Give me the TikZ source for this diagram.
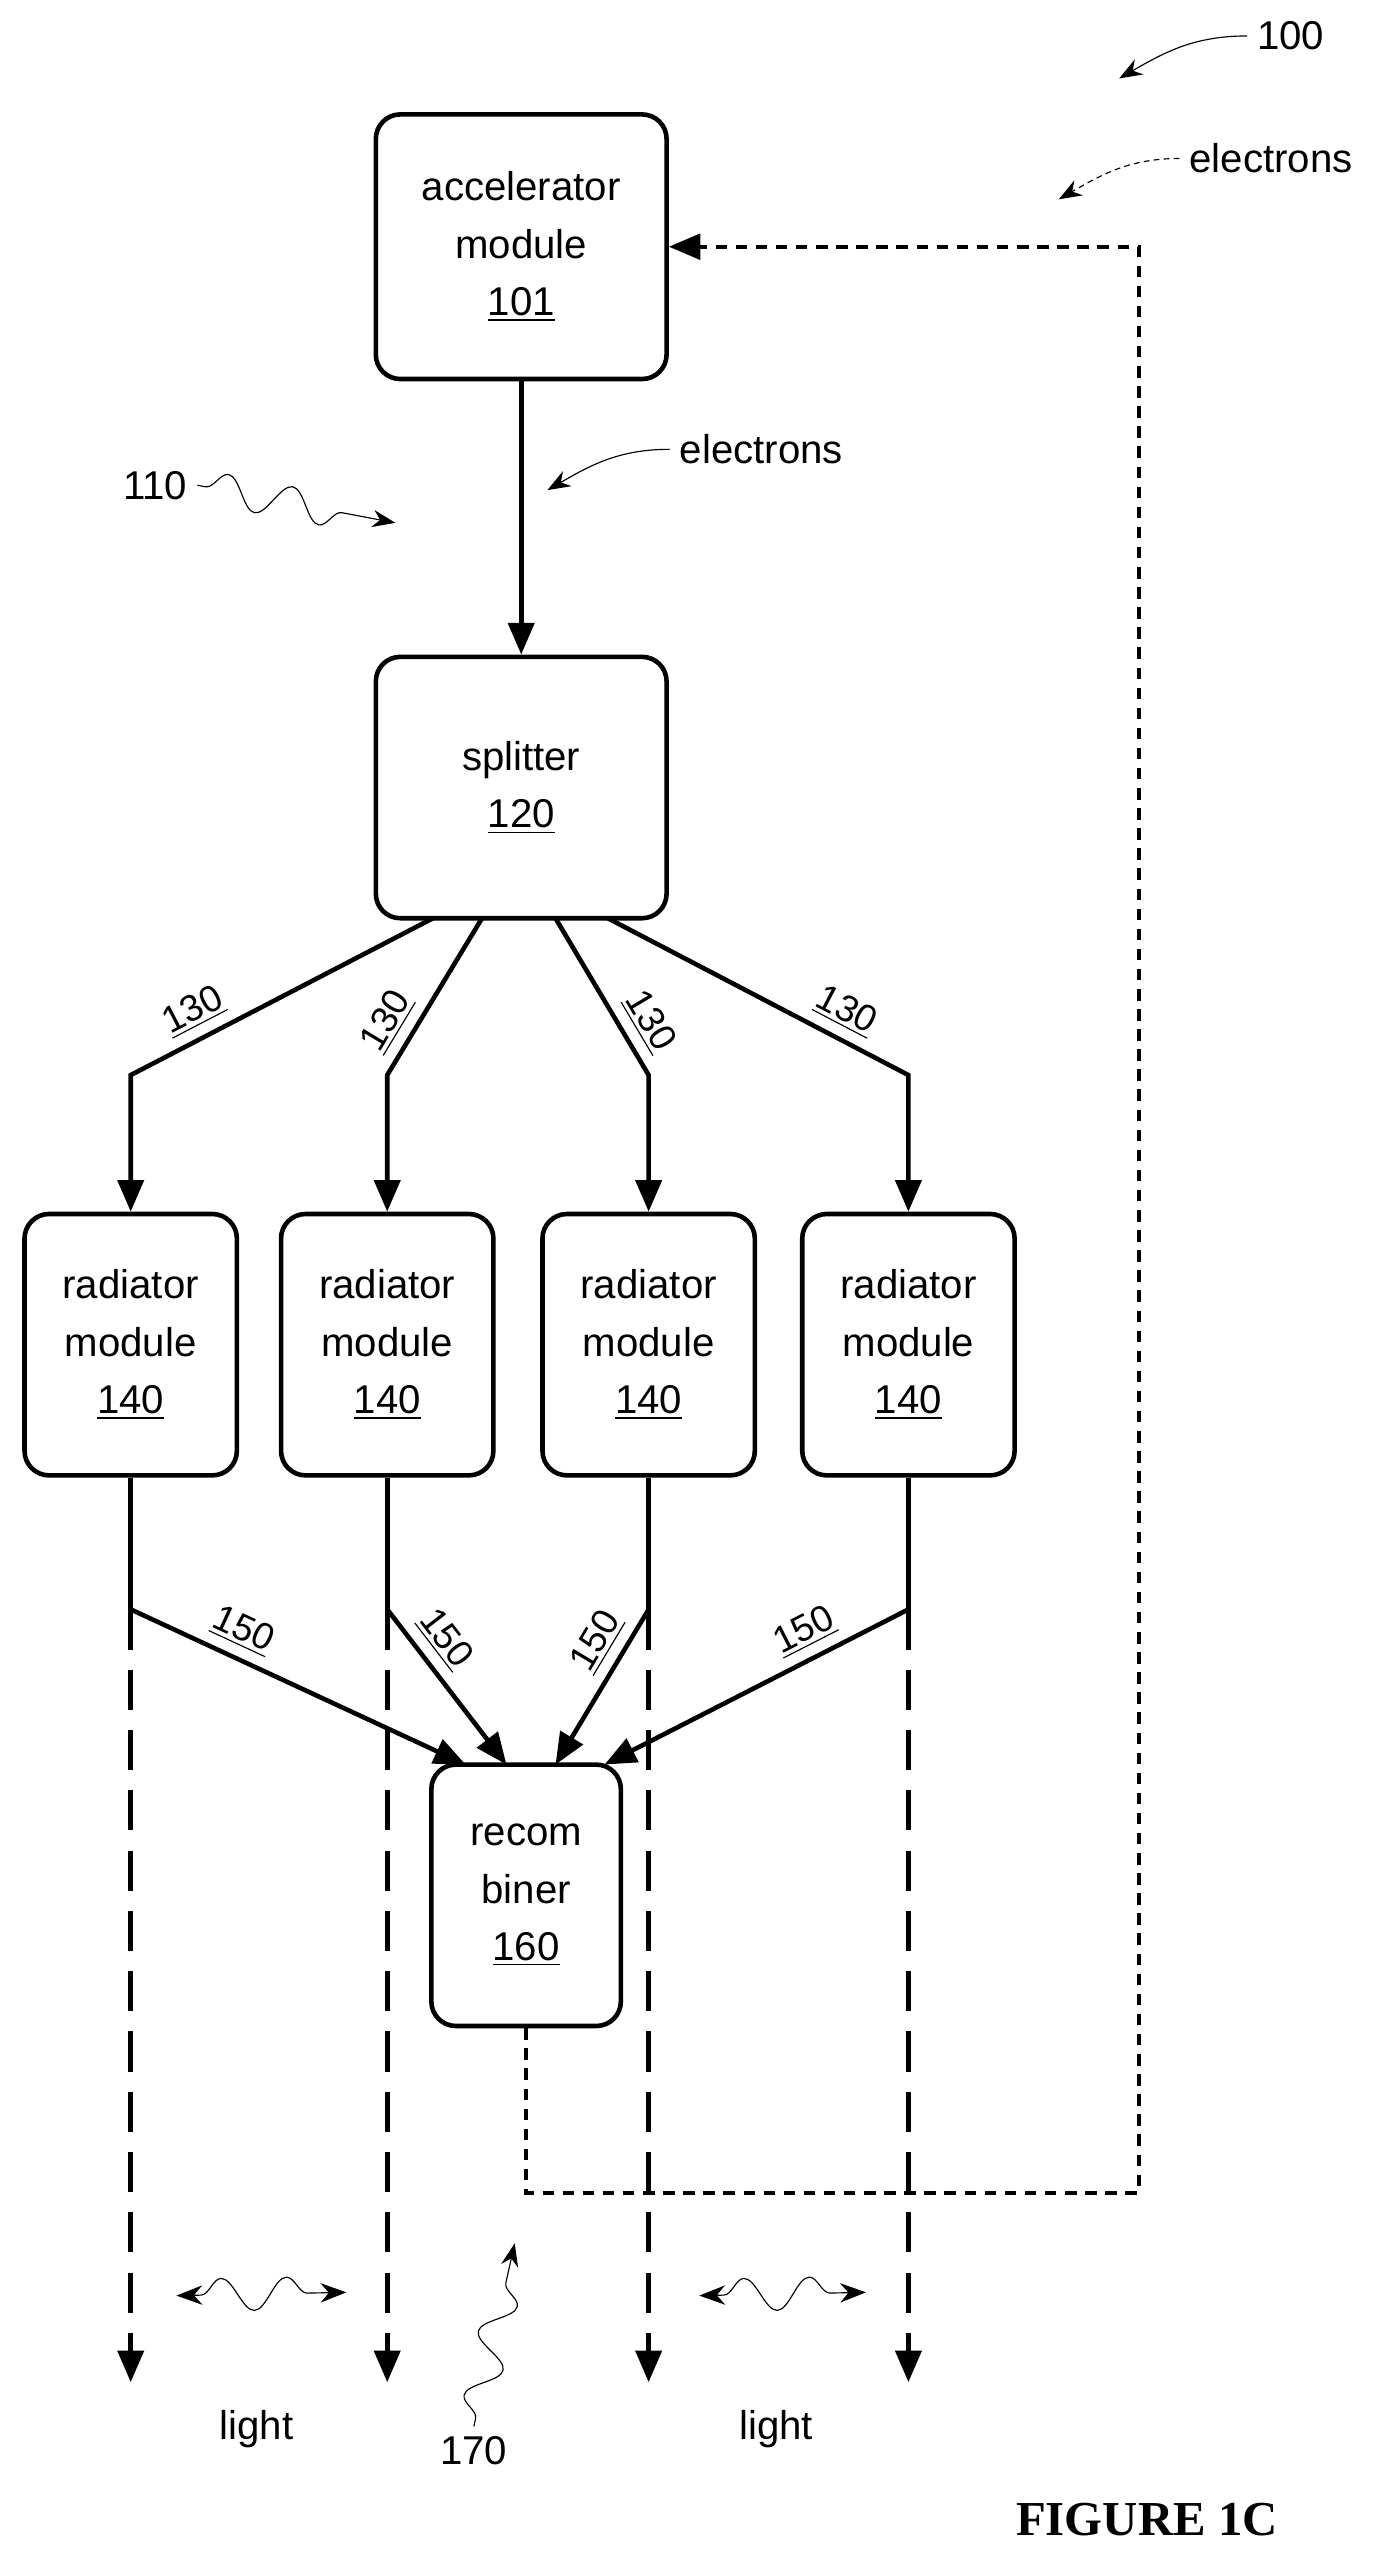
\documentclass[tikz,border=0pt]{standalone}
\usepackage{fontspec}
\setmainfont{Liberation Sans}
\newfontfamily\figfont{Liberation Serif}
\usetikzlibrary{arrows.meta}
\usetikzlibrary{positioning}
\usetikzlibrary{decorations.pathmorphing}

\tikzset{
  box/.style={draw,line width=1.6pt,rounded corners=0.3cm,align=center,font=\fontsize{14}{20}\selectfont},
  flow/.style={line width=1.6pt,-{Triangle[length=11pt,width=9pt]}},
  lightflow/.style={line width=1.6pt,dash pattern=on 14pt off 7pt,-{Triangle[length=11pt,width=9pt]}},
  back/.style={line width=1.3pt,dash pattern=on 4pt off 3pt},
  wiggle/.style={thin,decorate,decoration={snake,amplitude=2mm,segment length=8mm,pre length=1mm,post length=3mm}},
  lbl/.style={font=\fontsize{14}{17}\selectfont},
  num/.style={font=\fontsize{13}{15}\selectfont,sloped,above}
}

\begin{document}
\begin{tikzpicture}[x=0.02cm,y=-0.02cm]
  \useasboundingbox (0,0) rectangle (850,1565);

  % modules
  \node[box,minimum width=3.56cm,minimum height=3.24cm] (acc) at (319,151) {accelerator\\module\\\underline{101}};
  \node[box,minimum width=3.56cm,minimum height=3.2cm] (spl) at (319,482) {splitter\\\underline{120}};
  \foreach \n/\x in {1/80,2/237,3/397,4/556}
    \node[box,minimum width=2.6cm,minimum height=3.2cm] (rad\n) at (\x,823) {radiator\\module\\\underline{140}};
  \node[box,minimum width=2.32cm,minimum height=3.2cm] (rec) at (322,1160) {recom\\biner\\\underline{160}};

  \draw[flow] (acc) -- (spl);

  % splitter to radiators
  \foreach \n/\s/\x in {1/265/80,2/295/237,3/340/397,4/372/556} {
    \coordinate (s\n) at (\s,562);
    \coordinate (k\n) at (\x,658);
    \draw[flow] (s\n) -- (k\n) node[num,pos=0.75] {\underline{130}} -- (rad\n.north);
  }
  % radiators to recombiner
  \foreach \n/\x/\t in {1/80/285,2/237/310,3/397/340,4/556/370} {
    \coordinate (b\n) at (\x,985);
    \coordinate (t\n) at (\t,1080);
    \draw[flow,-] (rad\n.south) -- (b\n);
    \draw[flow] (b\n) -- (t\n) node[num,pos=0.3] {\underline{150}};
    \coordinate (e\n) at (\x,1458);
    \draw[lightflow] (b\n) -- (e\n);
  }

  % return path
  \coordinate (r1) at (322,1342);
  \coordinate (r2) at (697,1342);
  \coordinate (r3) at (697,151);
  \draw[back,-{Triangle[length=11pt,width=9pt]}] (rec.south) -- (r1) -- (r2) -- (r3) -- (acc.east);

  % labels
  \node[lbl] (el1) at (466,275) {electrons};
  \coordinate (el1a) at (335,300);
  \draw[thin,-{Stealth[length=8pt]}] (el1.west) to[out=180,in=30] (el1a);
  \node[lbl] (el2) at (778,97) {electrons};
  \coordinate (el2a) at (648,122);
  \draw[thin,dash pattern=on 2pt off 1.5pt,-{Stealth[length=8pt]}] (el2.west) to[out=180,in=30] (el2a);
  \node[lbl] (n100) at (790,22) {100};
  \coordinate (n100a) at (685,48);
  \draw[thin,-{Stealth[length=8pt]}] (n100.west) to[out=180,in=30] (n100a);
  \node[lbl] (n110) at (95,297) {110};
  \coordinate (n110a) at (242,320);
  \draw[wiggle,-{Stealth[length=8pt]}] (n110.east) -- (n110a);
  \node[lbl] (n170) at (290,1500) {170};
  \coordinate (n170a) at (315,1373);
  \draw[wiggle,-{Stealth[length=8pt]}] (n170.north) -- (n170a);

  \node[lbl] (li1) at (157,1487) {light};
  \coordinate (li1a) at (108,1405);
  \coordinate (li1b) at (212,1403);
  \draw[wiggle,{Stealth[length=9pt]}-{Stealth[length=9pt]},decoration={pre length=3mm}] (li1a) -- (li1b);
  \node[lbl] (li2) at (475,1487) {light};
  \coordinate (li2a) at (428,1405);
  \coordinate (li2b) at (530,1403);
  \draw[wiggle,{Stealth[length=9pt]}-{Stealth[length=9pt]},decoration={pre length=3mm}] (li2a) -- (li2b);

  \node[font=\figfont\bfseries\fontsize{17}{20}\selectfont] (fig) at (702,1542) {FIGURE 1C};
\end{tikzpicture}
\end{document}
